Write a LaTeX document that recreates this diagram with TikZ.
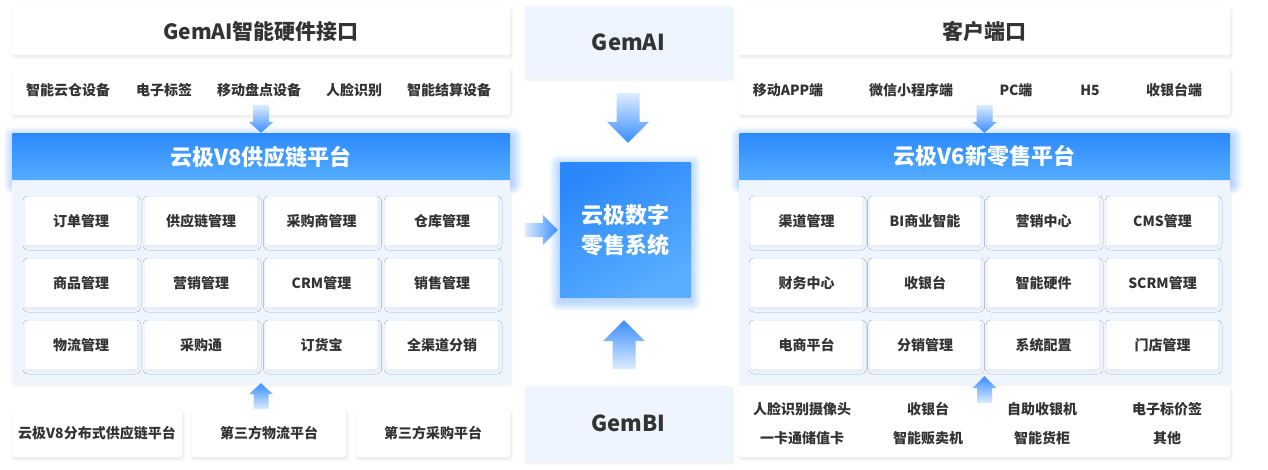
\documentclass[tikz,border=0pt]{standalone}
\usepackage{fontspec}
\setmainfont{Noto Sans CJK SC}
\usetikzlibrary{positioning,calc,shadows.blur,backgrounds}

\definecolor{txtgray}{HTML}{333333}
\definecolor{panelblue}{HTML}{EEF5FE}
\definecolor{headtop}{HTML}{2A89FF}
\definecolor{headbot}{HTML}{55ADFF}
\definecolor{arrowblue}{HTML}{3A8DFF}
\definecolor{arrowpale}{HTML}{DDEDFF}
\definecolor{coretop}{HTML}{2B88FA}
\definecolor{corebot}{HTML}{5AAEFF}

\tikzset{
  pics/arrowdown/.style n args={4}{code={
    \shade[top color=arrowpale, bottom color=arrowblue] (-#2,-#1) -- (#2,-#1) -- (#2,-#4) -- (#3,-#4) -- (0,0) -- (-#3,-#4) -- (-#2,-#4) -- cycle;
  }},
  pics/arrowup/.style n args={4}{code={
    \shade[top color=arrowblue, bottom color=arrowpale] (-#2,#1) -- (#2,#1) -- (#2,#4) -- (#3,#4) -- (0,0) -- (-#3,#4) -- (-#2,#4) -- cycle;
  }},
  pics/arrowright/.style n args={4}{code={
    \shade[left color=arrowpale, right color=arrowblue] (-#1,-#2) -- (-#4,-#2) -- (-#4,-#3) -- (0,0) -- (-#4,#3) -- (-#4,#2) -- (-#1,#2) -- cycle;
  }}
}

\begin{document}
\begin{tikzpicture}[x=1pt, y=-1pt, text=txtgray, inner sep=0pt,
  titlebox/.style={rectangle, fill=white, rounded corners=2pt, minimum height=47pt,
    font=\bfseries\fontsize{21}{24}\selectfont,
    blur shadow={shadow xshift=1pt, shadow yshift=-2pt, shadow blur radius=3pt, shadow opacity=10}},
  rowbox/.style={rectangle, fill=white, rounded corners=2pt, minimum height=47pt,
    blur shadow={shadow xshift=1pt, shadow yshift=-2pt, shadow blur radius=3pt, shadow opacity=10}},
  item/.style={font=\bfseries\fontsize{14}{16}\selectfont},
  header/.style={rectangle, rounded corners=1pt, top color=headtop, bottom color=headbot,
    minimum height=47pt, text=white, font=\bfseries\fontsize{22}{24}\selectfont},
  panel/.style={rectangle, fill=panelblue, rounded corners=2pt,
    blur shadow={shadow xshift=1pt, shadow yshift=-2pt, shadow blur radius=3pt, shadow opacity=8}},
  cell/.style={rectangle, fill=white, rounded corners=2pt, minimum width=112pt, minimum height=48pt,
    font=\bfseries\fontsize{14}{16}\selectfont,
    blur shadow={shadow xshift=1pt, shadow yshift=-2pt, shadow blur radius=3pt, shadow opacity=5}},
  gembox/.style={rectangle, fill=panelblue, rounded corners=2pt, minimum width=207pt,
    font=\bfseries\fontsize{22}{26}\selectfont,
    blur shadow={shadow xshift=1pt, shadow yshift=-2pt, shadow blur radius=3pt, shadow opacity=8}},
  glow/.style={fill=arrowblue, opacity=0.04}]

\useasboundingbox (0,0) rectangle (1268,469);

% GemAI hardware side
\node[titlebox, minimum width=498pt] (ltitle) at (261,31.5) {GemAI智能硬件接口};
\node[rowbox, minimum width=498pt] (lrow) at (261,91.5) {};
\node[item] (dev1) at (68,90) {智能云仓设备};
\node[item] (dev2) at (164,90) {电子标签};
\node[item] (dev3) at (259,90) {移动盘点设备};
\node[item] (dev4) at (354,90) {人脸识别};
\node[item] (dev5) at (449,90) {智能结算设备};

% V8 supply chain platform
\node[panel, minimum width=498pt, minimum height=203pt] (lpanel) at (261,281.5) {};
\node[header, minimum width=498pt] (lhead) at (261,156.5) {云极V8供应链平台};
\node[cell] (v8a) at (81,221) {订单管理};
\node[cell] (v8b) at (201,221) {供应链管理};
\node[cell] (v8c) at (321.5,221) {采购商管理};
\node[cell] (v8d) at (442,221) {仓库管理};
\node[cell] (v8e) at (81,283) {商品管理};
\node[cell] (v8f) at (201,283) {营销管理};
\node[cell] (v8g) at (321.5,283) {CRM管理};
\node[cell] (v8h) at (442,283) {销售管理};
\node[cell] (v8i) at (81,345) {物流管理};
\node[cell] (v8j) at (201,345) {采购通};
\node[cell] (v8k) at (321.5,345) {订货宝};
\node[cell] (v8l) at (442,345) {全渠道分销};

% third party platforms
\node[rowbox, item, minimum width=170pt] (src1) at (97,433.5) {云极V8分布式供应链平台};
\node[rowbox, item, minimum width=154pt] (src2) at (269,433.5) {第三方物流平台};
\node[rowbox, item, minimum width=154pt] (src3) at (433,433.5) {第三方采购平台};

% center column
\node[gembox, minimum height=72pt] (gemai) at (628.5,42) {GemAI};
\node[gembox, minimum height=75pt] (gembi) at (628.5,423.5) {GemBI};
\node[rectangle, rounded corners=1pt, minimum width=131pt, minimum height=136pt,
  top color=coretop, bottom color=corebot, shading angle=30, text=white, align=center,
  font=\bfseries\fontsize{22}{30}\selectfont]
  (core) at (625.5,230) {云极数字\\零售系统};

% client side
\node[titlebox, minimum width=491pt] (rtitle) at (984.5,31.5) {客户端口};
\node[rowbox, minimum width=491pt] (rrow) at (984.5,91.5) {};
\node[item] (cli1) at (788,90) {移动APP端};
\node[item] (cli2) at (911,90) {微信小程序端};
\node[item] (cli3) at (1016,90) {PC端};
\node[item] (cli4) at (1090,90) {H5};
\node[item] (cli5) at (1174,90) {收银台端};

% V6 new retail platform
\node[panel, minimum width=491pt, minimum height=203pt] (rpanel) at (984.5,281.5) {};
\node[header, minimum width=491pt] (rhead) at (984.5,156.5) {云极V6新零售平台};
\node[cell, minimum width=111pt] (v6a) at (806.5,221) {渠道管理};
\node[cell, minimum width=111pt] (v6b) at (925,221) {BI商业智能};
\node[cell, minimum width=111pt] (v6c) at (1043.5,221) {营销中心};
\node[cell, minimum width=111pt] (v6d) at (1162.5,221) {CMS管理};
\node[cell, minimum width=111pt] (v6e) at (806.5,283) {财务中心};
\node[cell, minimum width=111pt] (v6f) at (925,283) {收银台};
\node[cell, minimum width=111pt] (v6g) at (1043.5,283) {智能硬件};
\node[cell, minimum width=111pt] (v6h) at (1162.5,283) {SCRM管理};
\node[cell, minimum width=111pt] (v6i) at (806.5,345) {电商平台};
\node[cell, minimum width=111pt] (v6j) at (925,345) {分销管理};
\node[cell, minimum width=111pt] (v6k) at (1043.5,345) {系统配置};
\node[cell, minimum width=111pt] (v6l) at (1162.5,345) {门店管理};

% terminal devices
\node[rowbox, minimum width=491pt, minimum height=71pt] (rdev) at (984.5,421.5) {};
\node[item] (hw1) at (802,409) {人脸识别摄像头};
\node[item] (hw2) at (928,409) {收银台};
\node[item] (hw3) at (1042,409) {自助收银机};
\node[item] (hw4) at (1167,409) {电子标价签};
\node[item] (hw5) at (802,438) {一卡通储值卡};
\node[item] (hw6) at (928,438) {智能贩卖机};
\node[item] (hw7) at (1042,438) {智能货柜};
\node[item] (hw8) at (1167,438) {其他};

% soft blue glow behind the headers and the core
\begin{scope}[on background layer]
  \foreach \g in {1,...,10} {
    \fill[glow, rounded corners=\g pt] ($(core.south west)+(-\g,\g+3)$) rectangle ($(core.north east)+(\g,-\g+3)$);
    \fill[glow, rounded corners=\g pt] ($(lhead.south west)+(-\g+2,\g+4)$) rectangle ($(lhead.north east)+(\g+2,-\g+4)$);
    \fill[glow, rounded corners=\g pt] ($(rhead.south west)+(-\g+2,\g+4)$) rectangle ($(rhead.north east)+(\g+2,-\g+4)$);
  }
\end{scope}

% Arrows
\pic at (lhead.north) {arrowdown={28}{8}{12.5}{11}};
\pic at (lpanel.south) {arrowup={26}{7.5}{12}{11}};
\pic at (rhead.north) {arrowdown={28}{8}{12.5}{11}};
\pic at ($(rpanel.south)+(0,-7)$) {arrowup={27}{7.5}{12}{12}};
\pic at ($(core.north)+(2.5,-19)$) {arrowdown={50}{11.5}{21}{21}};
\pic at ($(core.south)+(-1.5,22)$) {arrowup={49}{11.5}{21}{21}};
\pic at ($(core.west)+(-2,0)$) {arrowright={33}{7}{15}{15}};
\end{tikzpicture}
\end{document}
